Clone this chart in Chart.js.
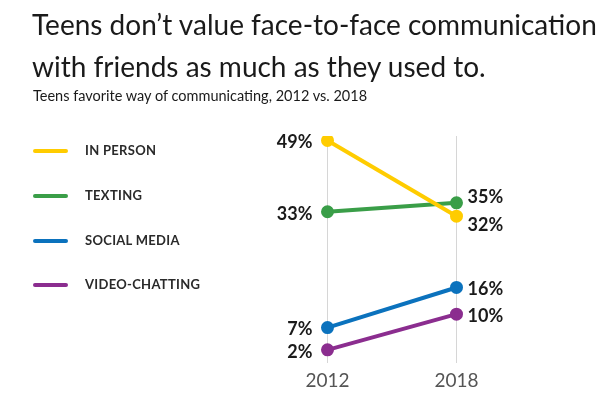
<!DOCTYPE html>
<html>
<head>
<meta charset="utf-8">
<script src="https://cdn.jsdelivr.net/npm/chart.js@4.4.0/dist/chart.umd.min.js"></script>
<style>
  body { margin: 0; background: #fff; font-family: Lato, "Open Sans", sans-serif; }
  #wrap { position: relative; width: 602px; height: 418px; overflow: hidden; }
  #chart { position: absolute; left: 0; top: 0; }
  .title { position: absolute; left: 32px; top: 3px; font-size: 28px; line-height: 42px; color: #1a1a1a; white-space: nowrap; }
  .sub { position: absolute; left: 33px; top: 87px; font-size: 14.5px; color: #1a1a1a; white-space: nowrap; }
  .legend { position: absolute; left: 33px; top: 0; }
  .legend div { position: absolute; white-space: nowrap; }
  .legend span.ln { position: absolute; left: 0; width: 35px; height: 4px; border-radius: 2px; }
  .legend span.tx { position: absolute; left: 52px; font-size: 13px; font-weight: 700; letter-spacing: 0.3px; color: #2a2a2a; }
</style>
</head>
<body>
<div id="wrap">
  <canvas id="chart" width="602" height="418"></canvas>
  <div class="title">Teens don’t value face-to-face communication<br>with friends as much as they used to.</div>
  <div class="sub">Teens favorite way of communicating, 2012 vs. 2018</div>
  <div class="legend" id="legend"></div>
</div>
<script>
// years on the x axis
const years = [2012, 2018];
const seriesNames = ['IN PERSON', 'TEXTING', 'SOCIAL MEDIA', 'VIDEO-CHATTING'];
const inPerson = [49, 32];
const texting = [33, 35];
const socialMedia = [7, 16];
const videoChatting = [2, 10];
const colors = ['#ffcc00', '#3a9e48', '#0b72bd', '#8b2d8f'];

const allSeries = [inPerson, texting, socialMedia, videoChatting];

// html legend on the left
const legendEl = document.getElementById('legend');
const legendTops = [151, 196, 241, 285];
seriesNames.forEach((name, i) => {
  const row = document.createElement('div');
  row.style.top = legendTops[i] + 'px';
  row.innerHTML = '<span class="ln" style="top:-2px;background:' + colors[i] + '"></span>' +
    '<span class="tx" style="top:-9px">' + name + '</span>';
  legendEl.appendChild(row);
});

// value labels beside the points
const valueLabels = {
  id: 'valueLabels',
  afterDatasetsDraw(chart) {
    const ctx = chart.ctx;
    ctx.save();
    ctx.font = 'bold 18px Lato, sans-serif';
    ctx.fillStyle = '#1a1a1a';
    ctx.textBaseline = 'middle';
    chart.data.datasets.forEach((ds, di) => {
      const meta = chart.getDatasetMeta(di);
      meta.data.forEach((pt, i) => {
        let dy = 2;
        if (i === 1 && ds.label === 'TEXTING') dy = -6;
        if (i === 1 && ds.label === 'IN PERSON') dy = 9;
        if (i === 0) {
          ctx.textAlign = 'right';
          ctx.fillText(ds.data[i].y + '%', pt.x - 15, pt.y + dy);
        } else {
          ctx.textAlign = 'left';
          ctx.fillText(ds.data[i].y + '%', pt.x + 11, pt.y + dy);
        }
      });
    });
    ctx.restore();
  }
};

new Chart(document.getElementById('chart'), {
  type: 'line',
  data: {
    datasets: allSeries.map((vals, i) => ({
      label: seriesNames[i],
      data: years.map((yr, j) => ({ x: yr, y: vals[j] })),
      borderColor: colors[i],
      backgroundColor: colors[i],
      borderWidth: 4,
      pointRadius: 4.5,
      pointHoverRadius: 4.5,
      fill: false
    }))
  },
  options: {
    responsive: false,
    animation: false,
    layout: { padding: { left: 306, right: 124, top: 136, bottom: 20 } },
    plugins: { legend: { display: false }, tooltip: { enabled: false } },
    scales: {
      x: {
        type: 'linear',
        min: 2011,
        max: 2019,
        afterBuildTicks: (axis) => { axis.ticks = years.map(v => ({ value: v })); },
        grid: { color: '#d6d6d6', lineWidth: 1, drawTicks: false },
        border: { display: false },
        ticks: { color: '#555', font: { family: 'Lato', size: 19 }, padding: 6, callback: v => String(v) }
      },
      y: {
        display: false,
        min: -1,
        max: 50
      }
    }
  },
  plugins: [valueLabels]
});
</script>
</body>
</html>
